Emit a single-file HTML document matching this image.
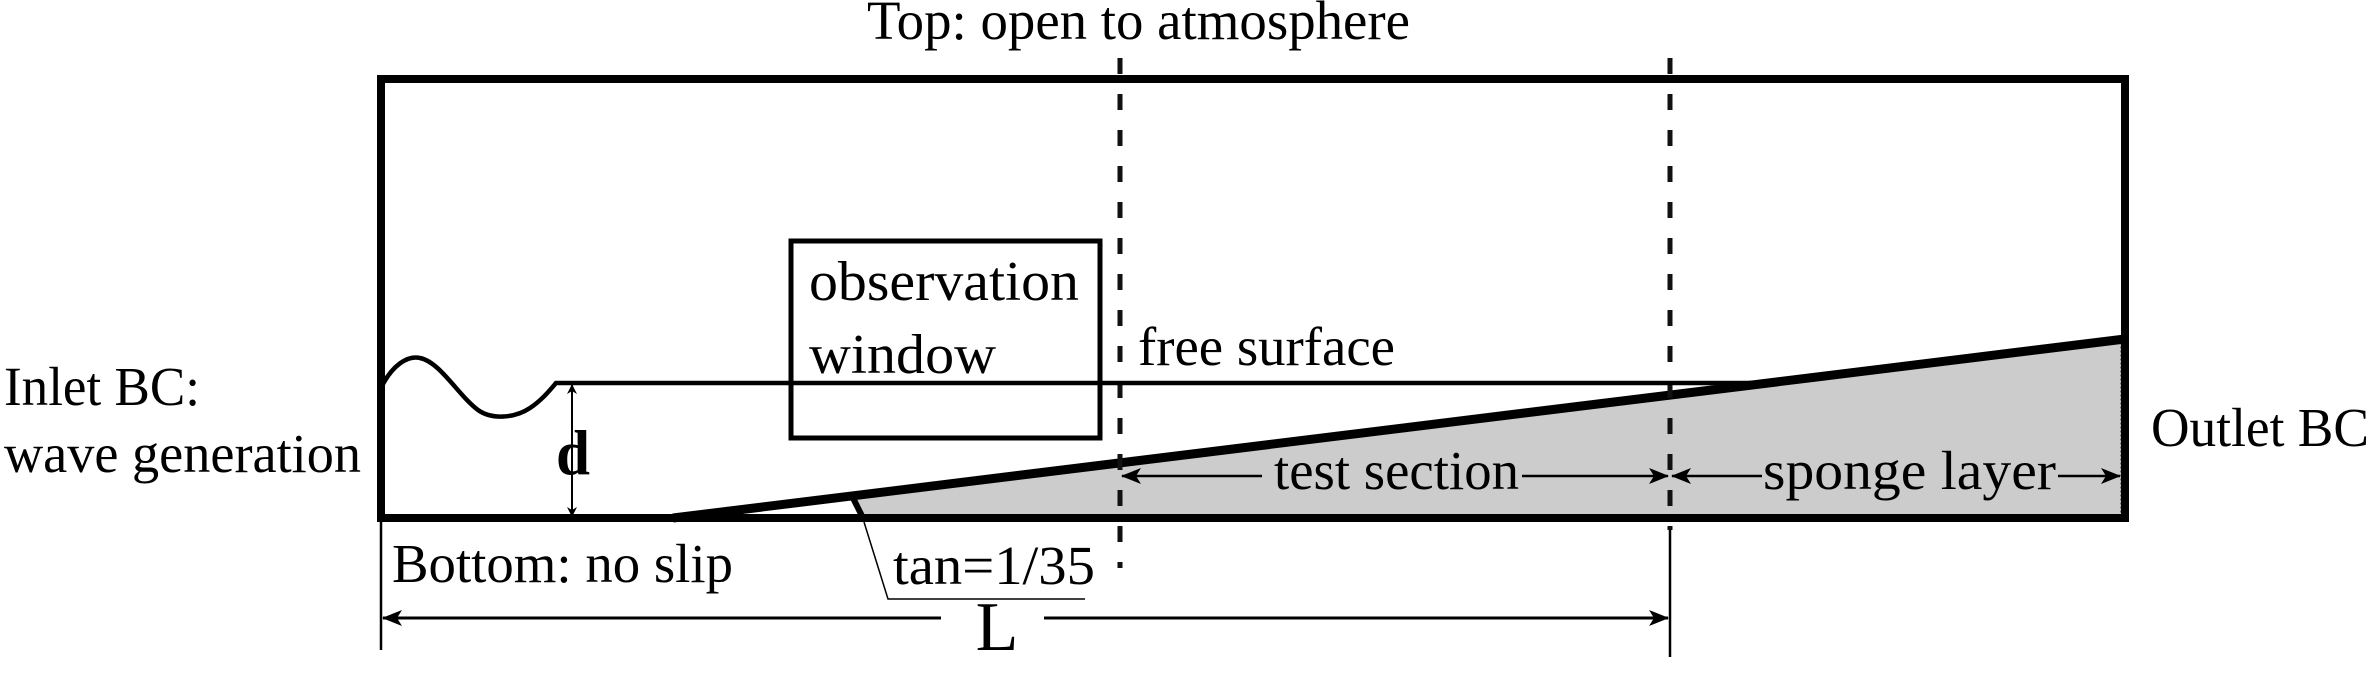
<!DOCTYPE html>
<html><head><meta charset="utf-8"><style>
html,body{margin:0;padding:0;background:#fff;}
svg{display:block;}
text{font-family:"Liberation Serif",serif;fill:#000;}
</style></head><body>
<svg width="2373" height="673" viewBox="0 0 2373 673" xmlns="http://www.w3.org/2000/svg">
<defs>
<marker id="ah" markerWidth="10" markerHeight="10" refX="9" refY="5" orient="auto" markerUnits="userSpaceOnUse" viewBox="0 0 10 10">
<path d="M0,0 L10,5 L0,10 L3,5 Z" fill="#000"/>
</marker>
<marker id="ahL" markerWidth="20" markerHeight="16" refX="19" refY="8" orient="auto" markerUnits="userSpaceOnUse" viewBox="0 0 20 16">
<path d="M0,0 L20,8 L0,16 L5,8 Z" fill="#000"/>
</marker>
</defs>
<polygon points="852,497 2121,341 2121,516 862,516" fill="#cccccc" stroke="#555" stroke-width="1.5" stroke-dasharray="2,2"/>
<line x1="853" y1="498" x2="862" y2="516" stroke="#000" stroke-width="6"/>
<rect x="381" y="79" width="1744" height="439" fill="none" stroke="#000" stroke-width="8"/>
<line x1="673" y1="518" x2="2125" y2="339" stroke="#000" stroke-width="9"/>
<line x1="1120" y1="58" x2="1120" y2="568" stroke="#111" stroke-width="5" stroke-dasharray="16,20"/>
<line x1="1670" y1="58" x2="1670" y2="530" stroke="#111" stroke-width="5" stroke-dasharray="16,20"/>
<line x1="1670" y1="530" x2="1670" y2="657" stroke="#000" stroke-width="2.5"/>
<line x1="381" y1="521" x2="381" y2="650" stroke="#000" stroke-width="2.5"/>
<path d="M381,388 C392,365 408,355 420,358 C440,362 458,395 478,410 C492,420 515,418 530,408 C542,400 550,390 556,383 L1758,383" fill="none" stroke="#000" stroke-width="4.5"/>
<line x1="572" y1="395" x2="572" y2="385" stroke="#000" stroke-width="2" marker-end="url(#ah)"/>
<line x1="572" y1="395" x2="572" y2="516" stroke="#000" stroke-width="2" marker-end="url(#ah)"/>
<text x="556" y="474" font-size="64" font-weight="bold" textLength="34" lengthAdjust="spacingAndGlyphs">d</text>
<rect x="791" y="241" width="309" height="197" fill="none" stroke="#000" stroke-width="5"/>
<text x="809" y="300" font-size="56" textLength="270" lengthAdjust="spacingAndGlyphs">observation</text>
<text x="809" y="373" font-size="56" textLength="187" lengthAdjust="spacingAndGlyphs">window</text>
<text x="867" y="39" font-size="55" textLength="543" lengthAdjust="spacingAndGlyphs">Top: open to atmosphere</text>
<text x="1138" y="365" font-size="55" textLength="257" lengthAdjust="spacingAndGlyphs">free surface</text>
<text x="4" y="405" font-size="55" textLength="196" lengthAdjust="spacingAndGlyphs">Inlet BC:</text>
<text x="4" y="472" font-size="55" textLength="357" lengthAdjust="spacingAndGlyphs">wave generation</text>
<text x="2151" y="446" font-size="55" textLength="218" lengthAdjust="spacingAndGlyphs">Outlet BC</text>
<text x="392" y="582" font-size="55" textLength="341" lengthAdjust="spacingAndGlyphs">Bottom: no slip</text>
<text x="893" y="584" font-size="55" textLength="202" lengthAdjust="spacingAndGlyphs">tan=1/35</text>
<polyline points="864,522 888,599 1085,599" fill="none" stroke="#000" stroke-width="1.5"/>
<line x1="1262" y1="476" x2="1122" y2="476" stroke="#000" stroke-width="2.5" marker-end="url(#ahL)"/>
<text x="1274" y="489" font-size="55" textLength="245" lengthAdjust="spacingAndGlyphs">test section</text>
<line x1="1522" y1="476" x2="1668" y2="476" stroke="#000" stroke-width="2.5" marker-end="url(#ahL)"/>
<line x1="1762" y1="476" x2="1672" y2="476" stroke="#000" stroke-width="2.5" marker-end="url(#ahL)"/>
<text x="1763" y="489" font-size="55" textLength="293" lengthAdjust="spacingAndGlyphs">sponge layer</text>
<line x1="2058" y1="476" x2="2120" y2="476" stroke="#000" stroke-width="2.5" marker-end="url(#ahL)"/>
<line x1="941" y1="618" x2="383" y2="618" stroke="#000" stroke-width="3" marker-end="url(#ahL)"/>
<line x1="1044" y1="618" x2="1668" y2="618" stroke="#000" stroke-width="3" marker-end="url(#ahL)"/>
<text x="997" y="650" font-size="70" text-anchor="middle">L</text>
</svg>
</body></html>
